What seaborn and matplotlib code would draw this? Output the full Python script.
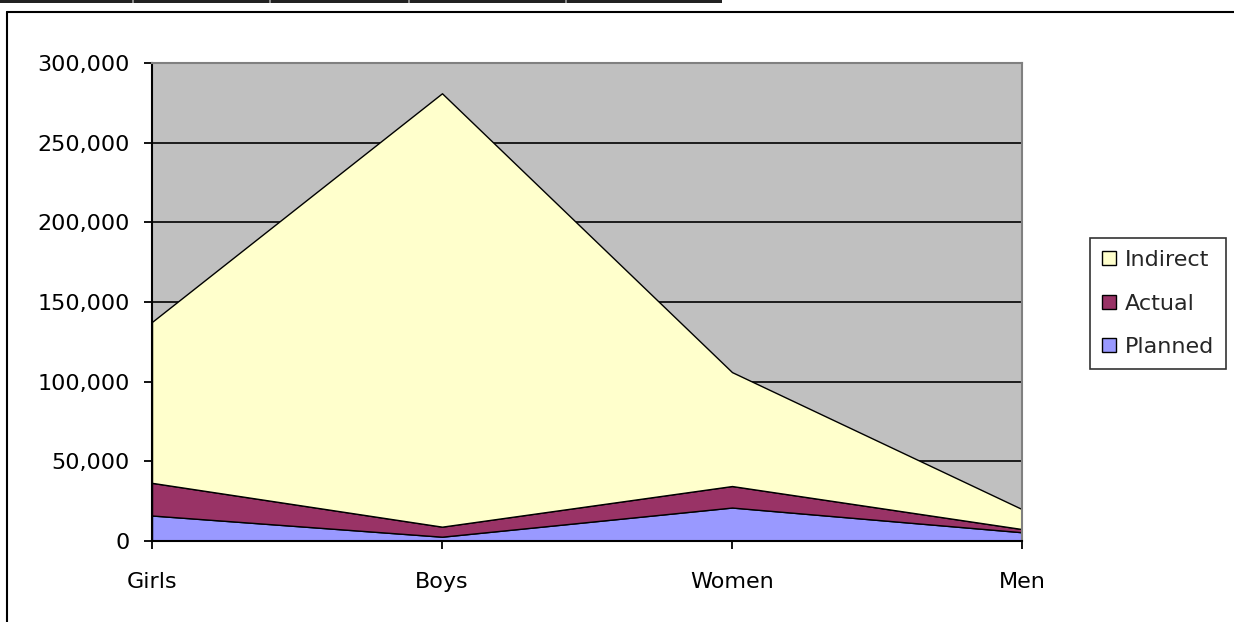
import matplotlib.pyplot as plt
import seaborn as sns
from matplotlib.patches import Rectangle
from matplotlib.ticker import FuncFormatter

# data (stacked: Planned, Actual, Indirect)
groups = ['Girls', 'Boys', 'Women', 'Men']
planned = [16000, 2700, 21000, 5500]
actual = [20500, 6300, 13500, 2000]
indirect = [101000, 272000, 71500, 12500]
series_names = ['Planned', 'Actual', 'Indirect']
series_colors = ['#9999FF', '#993366', '#FFFFCC']
y_ticks = [0, 50000, 100000, 150000, 200000, 250000, 300000]

sns.set_theme(style='white')
plt.rcParams['font.family'] = ['DejaVu Sans']

fig = plt.figure(figsize=(12.34, 6.22), dpi=100)
W, H = 1234, 622

# spreadsheet row edge at the very top and chart border
fig.patches.append(Rectangle((0, 1 - 3 / H), 722 / W, 3 / H, transform=fig.transFigure,
                             facecolor='#222222', edgecolor='none'))
for xs in [132, 269, 408, 565]:
    fig.patches.append(Rectangle((xs / W, 1 - 3 / H), 1.5 / W, 3 / H, transform=fig.transFigure,
                                 facecolor='#888888', edgecolor='none'))
fig.add_artist(plt.Line2D([7 / W, 1], [1 - 12 / H, 1 - 12 / H], transform=fig.transFigure,
                          color='black', lw=1.5))
fig.add_artist(plt.Line2D([7 / W, 7 / W], [0, 1 - 12 / H], transform=fig.transFigure,
                          color='black', lw=1.5))

ax = fig.add_axes([152 / W, 1 - 541 / H, (1022 - 152) / W, (541 - 63) / H])
ax.set_facecolor('#C0C0C0')

x = list(range(len(groups)))
polys = ax.stackplot(x, planned, actual, indirect, colors=series_colors,
                     labels=series_names, edgecolor='black', linewidth=1, zorder=2)

ax.set_xlim(0, 3)
ax.set_ylim(0, 300000)
ax.set_xticks(x)
ax.set_xticklabels(groups)
ax.set_yticks(y_ticks)
ax.yaxis.set_major_formatter(FuncFormatter(lambda v, p: f'{int(v):,}'))

ax.set_axisbelow(True)
ax.yaxis.grid(True, color='black', linewidth=1.2)
ax.xaxis.grid(False)

for side in ['left', 'bottom']:
    ax.spines[side].set_color('black')
    ax.spines[side].set_linewidth(1.5)
for side in ['top', 'right']:
    ax.spines[side].set_color('#808080')
    ax.spines[side].set_linewidth(1.5)

ax.tick_params(axis='y', direction='out', length=6, width=1.3, color='black',
               pad=10, labelsize=16, left=True, labelcolor='black')
ax.tick_params(axis='x', direction='out', length=6, width=1.3, color='black',
               pad=16, labelsize=16, bottom=True, labelcolor='black')

# legend in Excel order (top series first)
handles, labels = ax.get_legend_handles_labels()
leg = fig.legend(handles[::-1], labels[::-1], loc='upper left',
                 bbox_to_anchor=(1090 / W, 1 - 238 / H), fontsize=16,
                 frameon=True, fancybox=False, edgecolor='black', facecolor='white',
                 handlelength=0.6, handleheight=0.6, handletextpad=0.4,
                 labelspacing=1.05, borderpad=0.55, borderaxespad=0)
leg.get_frame().set_linewidth(1.2)

plt.savefig('out.png', dpi=100)
